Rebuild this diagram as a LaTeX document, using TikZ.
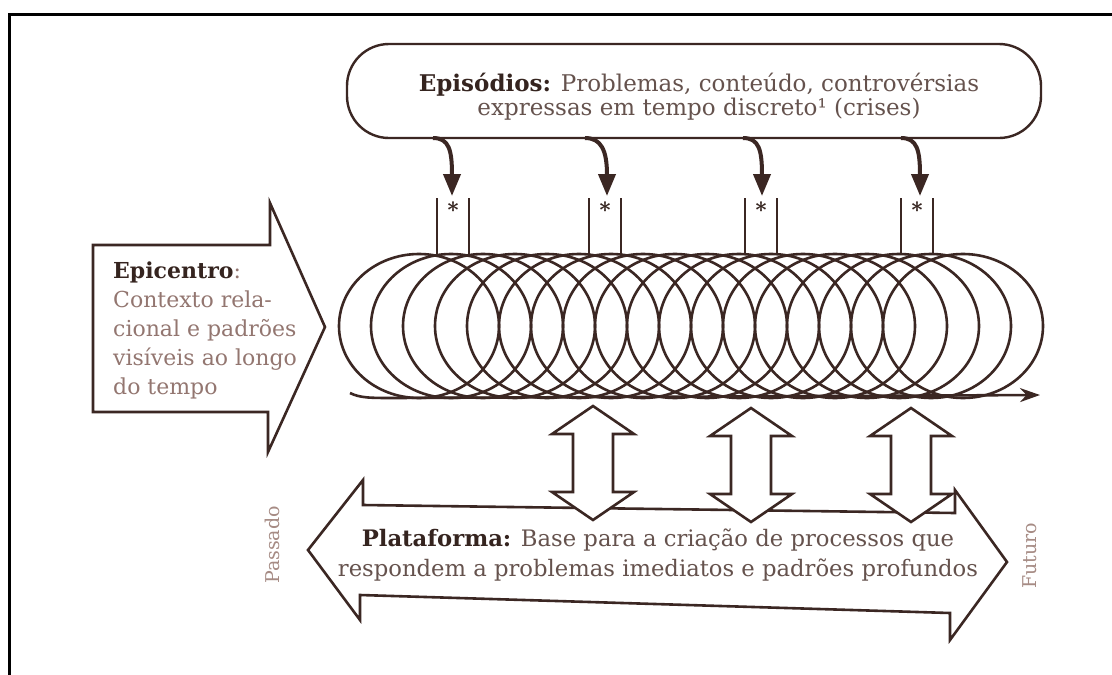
\documentclass[tikz,border=0pt]{standalone}
\usepackage{fontspec}
\setmainfont{DejaVu Serif}
\usetikzlibrary{arrows.meta}
\definecolor{ink}{HTML}{3B2723}
\definecolor{boldtxt}{HTML}{35241F}
\definecolor{bodytxt}{HTML}{65524D}
\definecolor{softtxt}{HTML}{937670}
\definecolor{sidetxt}{HTML}{A68B84}
\begin{document}
\begin{tikzpicture}[x=1pt,y=-1pt,
  outline/.style={draw=ink,line width=2.6pt,line join=miter},
  coil/.style={draw=ink,line width=2.6pt},
  tickline/.style={draw=ink,line width=2.2pt},
  drop/.style={draw=ink,line width=4pt,-{Triangle[length=22pt,width=17pt]}},
  roundbox/.style={draw=ink,line width=2.4pt,rounded corners=42pt,minimum width=694pt,minimum height=94pt,inner sep=0pt},
  bigtext/.style={font=\fontsize{23}{24}\selectfont,text=bodytxt},
  sidelabel/.style={rotate=90,font=\fontsize{19}{19}\selectfont,text=sidetxt}
]
\useasboundingbox (0,0) rectangle (1112,675);
\fill[white] (0,0) rectangle (1112,675);
\draw[line width=3pt,black] (9.7,675) -- (9.7,14.7) -- (1112,14.7);

% Episodios box
\node[roundbox] (epis) at (694,91) {};
\node[bigtext,align=center] (epist) at (699,97) {\textcolor{boldtxt}{\textbf{Episódios:}} Problemas, conteúdo, controvérsias\\expressas em tempo discreto¹ (crises)};

% curved arrows
\foreach \s/\t [count=\i] in {433/452,585/607,743/762,901/920} {
  \coordinate (a\i) at (\s,138);
  \coordinate (b\i) at (\t,196);
  \draw[drop] (a\i) .. controls (\s+16,138) and (\t,150) .. (b\i);
}

% tick pairs with asterisks
\foreach \x [count=\i] in {437,589,745,901} {
  \draw[tickline] (\x,198) -- (\x,254);
  \draw[tickline] (\x+32,198) -- (\x+32,254);
  \node[font=\bfseries\fontsize{21}{21}\selectfont,text=boldtxt,inner sep=0pt] (ast\i) at (\x+16,210) {*};
}

% coil
\foreach \k in {0,...,17} \draw[coil] ({419+32*\k},326) ellipse [x radius=80pt, y radius=72pt];
\coordinate (cs) at (350,393);
\coordinate (ce) at (1040,395);
\draw[coil,-{Stealth[length=20pt,width=14pt]}] (cs) .. controls (360,398) and (370,398) .. (395,398) -- (ce);

% Epicentro arrow
\draw[outline,fill=white] (93,245) -- (270,245) -- (270,203) -- (325,327) -- (268,452) -- (268,412) -- (93,412) -- cycle;
\node[anchor=base west,align=left,inner sep=0pt,font=\fontsize{22}{29}\selectfont,text=softtxt] (epi) at (113,394) {\textcolor{boldtxt}{\textbf{Epicentro}}:\\Contexto rela-\\cional e padrões\\visíveis ao longo\\do tempo};

% Plataforma arrow
\draw[outline,fill=white] (308,550) -- (363,480) -- (363,505) -- (955,513) -- (955,490) -- (1007,562) -- (950,640) -- (950,613) -- (360,595) -- (360,620) -- cycle;

% double arrows
\foreach \x/\y [count=\i] in {593/406,751/408,911/408} {
  \draw[outline,fill=white] (\x,\y) -- ++(41,28) -- ++(-21,0) -- ++(0,58) -- ++(21,0) -- ++(-41,28) -- ++(-41,-28) -- ++(21,0) -- ++(0,-58) -- ++(-21,0) -- cycle;
}

\node[bigtext,align=center,font=\fontsize{22.7}{30}\selectfont] (plat) at (658,555) {\textcolor{boldtxt}{\textbf{Plataforma:}} Base para a criação de processos que\\respondem a problemas imediatos e padrões profundos};

\node[sidelabel] (pas) at (272,545) {Passado};
\node[sidelabel] (fut) at (1030,556) {Futuro};
\end{tikzpicture}
\end{document}
